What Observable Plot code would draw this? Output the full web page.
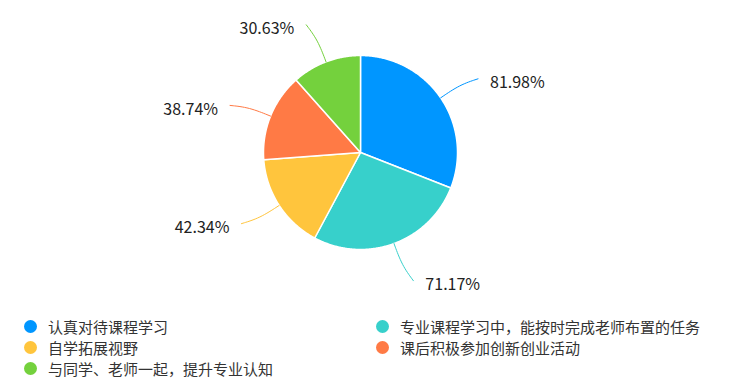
<!DOCTYPE html>
<html>
<head>
<meta charset="utf-8">
<script src="https://cdn.jsdelivr.net/npm/d3@7"></script>
<script src="https://cdn.jsdelivr.net/npm/@observablehq/plot@0.6"></script>
<style>
  html, body { margin: 0; padding: 0; background: #fff; }
  body { width: 737px; height: 386px; overflow: hidden; font-family: "Microsoft YaHei", "Noto Sans CJK SC", "Noto Sans", sans-serif; }
  #legend { display: grid; grid-template-columns: 352px auto; padding: 6px 0 0 24px; }
  .item { display: flex; align-items: center; height: 21px; font-size: 15px; color: #333; white-space: nowrap; }
  .sw { width: 13px; height: 13px; border-radius: 50%; margin-right: 11px; flex: none; }
</style>
</head>
<body>
<div id="chart"></div>
<div id="legend"></div>
<script>
const categories = [
  "认真对待课程学习",
  "专业课程学习中，能按时完成老师布置的任务",
  "自学拓展视野",
  "课后积极参加创新创业活动",
  "与同学、老师一起，提升专业认知"
];
const values = [81.98, 71.17, 42.34, 38.74, 30.63];
const valueLabels = ["81.98%", "71.17%", "42.34%", "38.74%", "30.63%"];
const colors = ["#0096ff", "#37d0cb", "#ffc53d", "#ff7a45", "#74d13d"];

const W = 737, H = 310, cx = 360, cy = 152, R = 97;

const data = categories.map((name, i) => ({name, value: values[i], label: valueLabels[i]}));
const arcs = d3.pie().sort(null).value(d => d.value)(data);

const polar = (k, a) => ({x: k * Math.sin(a), y: k * Math.cos(a)});

// slice outlines
const slicePts = [];
for (const a of arcs) {
  const n = Math.max(2, Math.ceil((a.endAngle - a.startAngle) / (Math.PI / 360)));
  slicePts.push({name: a.data.name, ...polar(0, 0)});
  for (let j = 0; j <= n; j++) {
    const t = a.startAngle + (a.endAngle - a.startAngle) * j / n;
    slicePts.push({name: a.data.name, ...polar(1, t)});
  }
}

// leader lines and label anchors
const leaderPts = [];
const labelPts = [];
for (const a of arcs) {
  const mid = (a.startAngle + a.endAngle) / 2;
  const side = Math.sin(mid) >= 0 ? 1 : -1;
  const toward = side > 0 ? Math.PI / 2 : 3 * Math.PI / 2;
  const rot = Math.sign(toward - mid) * 2.2 * Math.PI / 180;
  const p0 = polar(1, mid), p1 = polar(1.24, mid), p2 = polar(1.43, mid + rot);
  for (const p of [p0, p1, p2]) leaderPts.push({name: a.data.name, ...p});
  labelPts.push({name: a.data.name, label: a.data.label, side, ...p2});
}

const plot = Plot.plot({
  width: W,
  height: H,
  margin: 0,
  x: {domain: [-cx / R, (W - cx) / R], axis: null},
  y: {domain: [-(H - cy) / R, cy / R], axis: null},
  color: {domain: categories, range: colors},
  style: {fontFamily: "'Microsoft YaHei', 'Noto Sans CJK SC', 'Noto Sans', sans-serif", background: "#fff"},
  marks: [
    Plot.line(slicePts, {x: "x", y: "y", z: "name", fill: "name", stroke: "#fff", strokeWidth: 1.5, curve: "linear-closed"}),
    Plot.line(leaderPts, {x: "x", y: "y", z: "name", stroke: "name", strokeWidth: 1, curve: "basis"}),
    Plot.text(labelPts.filter(d => d.side > 0), {x: "x", y: "y", text: "label", textAnchor: "start", dx: 12, dy: 4, fontSize: 16, fill: "#222"}),
    Plot.text(labelPts.filter(d => d.side < 0), {x: "x", y: "y", text: "label", textAnchor: "end", dx: -12, dy: 4, fontSize: 16, fill: "#222"})
  ]
});
document.getElementById("chart").appendChild(plot);

const legend = document.getElementById("legend");
const color = plot.scale("color");
for (const name of categories) {
  const item = document.createElement("div");
  item.className = "item";
  const sw = document.createElement("span");
  sw.className = "sw";
  sw.style.background = color.apply(name);
  item.appendChild(sw);
  item.appendChild(document.createTextNode(name));
  legend.appendChild(item);
}
</script>
</body>
</html>
